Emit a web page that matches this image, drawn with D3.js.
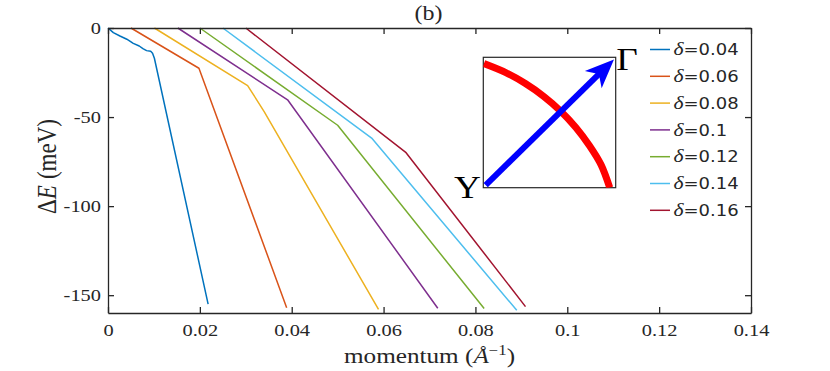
<!DOCTYPE html>
<html><head><meta charset="utf-8">
<script src="https://cdn.jsdelivr.net/npm/d3@7"></script>
<style>body{margin:0;background:#fff}</style>
</head><body>
<svg id="c" width="830" height="371"></svg>
<script>
// ---- data ----
const xTicks = [0, 0.02, 0.04, 0.06, 0.08, 0.1, 0.12, 0.14];
const yTicks = [-150, -100, -50, 0];
const deltas = ["0.04", "0.06", "0.08", "0.1", "0.12", "0.14", "0.16"];
const colors = ["#0072BD", "#D95319", "#EDB120", "#7E2F8E", "#77AC30", "#4DBEEE", "#A2142F"];

const k004 = [0, 0.00116, 0.0026, 0.0041, 0.0055, 0.0068, 0.0076, 0.0084, 0.0093, 0.0097, 0.0101, 0.0218];
const E004 = [0, -2.6, -4.5, -6.3, -8.6, -10.1, -11.6, -12.7, -13.1, -14.2, -17, -155];
const k006 = [0.0050, 0.0198, 0.0389];
const E006 = [0, -22.6, -157];
const k008 = [0.0101, 0.0304, 0.0340, 0.0589];
const E008 = [0, -32.3, -46.9, -158];
const k010 = [0.0152, 0.0391, 0.0718];
const E010 = [0, -40.3, -157.3];
const k012 = [0.0200, 0.0500, 0.0819];
const E012 = [0, -54.6, -157.5];
const k014 = [0.0250, 0.0574, 0.0890];
const E014 = [0, -61.8, -158.5];
const k016 = [0.0300, 0.0649, 0.0909];
const E016 = [0, -70, -156.4];

const seriesK = [k004, k006, k008, k010, k012, k014, k016];
const seriesE = [E004, E006, E008, E010, E012, E014, E016];

// inset (normalised 0..1 coordinates)
const arcU = [0.005, 0.170, 0.318, 0.457, 0.585, 0.699, 0.801, 0.889, 0.955];
const arcV = [0.952, 0.883, 0.799, 0.700, 0.587, 0.462, 0.324, 0.177, 0.0];
const arrowFrom = [0.018, 0.02];
const arrowTo = [0.987, 0.984];

// ---- drawing ----
const SX = 1.2;
const svg = d3.select("#c");
const L = 108, R = 751, T = 28, B = 313;
const x = d3.scaleLinear([0, 0.14], [L, R]);
const y = d3.scaleLinear([-160, 0], [B, T]);
const axisCol = "#262626";
const serif = "'Liberation Serif', 'Times New Roman', serif";

// lines
const line = d3.line().x(d => x(d[0])).y(d => y(d[1]));
seriesK.forEach((ks, i) => {
  const pts = ks.map((k, j) => [k, seriesE[i][j]]);
  svg.append("path").attr("d", line(pts)).attr("fill", "none")
    .attr("stroke", colors[i]).attr("stroke-width", 1.5).attr("stroke-linejoin", "round");
});

function styleAxis(g) {
  g.select(".domain").attr("stroke", axisCol).attr("stroke-width", 1.3);
  g.selectAll(".tick line").attr("stroke", axisCol).attr("stroke-width", 1.3);
  g.selectAll("text").attr("fill", axisCol).attr("font-family", serif).attr("font-size", 17);
}

const gB = svg.append("g").attr("transform", `translate(0,${B})`)
  .call(d3.axisBottom(x).tickValues(xTicks).tickSizeInner(-6).tickSizeOuter(0).tickFormat(d => String(d)));
styleAxis(gB);
gB.selectAll("text").attr("y", null).attr("dy", null)
  .attr("transform", `translate(0,23) scale(${SX},1)`);

const gL = svg.append("g").attr("transform", `translate(${L},0)`)
  .call(d3.axisLeft(y).tickValues(yTicks).tickSizeInner(-6).tickSizeOuter(0).tickFormat(d => String(d)));
styleAxis(gL);
gL.selectAll("text").attr("x", null).attr("dy", "0.33em")
  .attr("transform", `translate(-7,0) scale(${SX},1)`);

const gT = svg.append("g").attr("transform", `translate(0,${T})`)
  .call(d3.axisTop(x).tickValues(xTicks).tickSizeInner(-6).tickSizeOuter(0).tickFormat(""));
styleAxis(gT);
const gR = svg.append("g").attr("transform", `translate(${R},0)`)
  .call(d3.axisRight(y).tickValues(yTicks).tickSizeInner(-6).tickSizeOuter(0).tickFormat(""));
styleAxis(gR);

// title
svg.append("text").attr("transform", `translate(428.5,20) scale(${SX},1)`)
  .attr("text-anchor", "middle").attr("font-family", serif).attr("font-size", 20)
  .attr("fill", axisCol).text("(b)");

// x label
const xl = svg.append("text").attr("transform", `translate(429.5,363) scale(${SX},1)`)
  .attr("text-anchor", "middle").attr("font-family", serif).attr("font-size", 21).attr("fill", axisCol);
xl.append("tspan").text("momentum (");
xl.append("tspan").attr("font-style", "italic").text("Å");
xl.append("tspan").attr("font-size", 14).attr("dy", -8).text("−1");
xl.append("tspan").attr("dy", 8).text(")");

// y label
const yl = svg.append("text").attr("transform", `translate(55.5,166.5) rotate(-90) scale(1,${SX})`)
  .attr("text-anchor", "middle").attr("font-family", serif).attr("font-size", 23).attr("fill", axisCol);
yl.append("tspan").text("Δ");
yl.append("tspan").attr("font-style", "italic").text("E");
yl.append("tspan").attr("dx", 6).text("(meV)");

// legend
deltas.forEach((d, i) => {
  const ry = 49.5 + i * 26.8;
  svg.append("line").attr("x1", 650).attr("x2", 670).attr("y1", ry).attr("y2", ry)
    .attr("stroke", colors[i]).attr("stroke-width", 1.5);
  const t = svg.append("text").attr("transform", `translate(673.5,${ry}) scale(${SX},1)`)
    .attr("dy", "0.36em").attr("fill", axisCol);
  t.append("tspan").attr("font-family", serif).attr("font-style", "italic").attr("font-size", 18).text("δ");
  t.append("tspan").attr("font-family", "'DejaVu Sans', sans-serif").attr("font-size", 15).text("=" + d);
});

// inset
const ix = d3.scaleLinear([0, 1], [483.3, 615.7]);
const iy = d3.scaleLinear([0, 1], [187.7, 57.3]);
svg.append("rect").attr("x", ix(0)).attr("y", iy(1)).attr("width", ix(1) - ix(0)).attr("height", iy(0) - iy(1))
  .attr("fill", "#fff").attr("stroke", axisCol).attr("stroke-width", 1.2);
svg.append("defs").append("clipPath").attr("id", "inclip").append("rect")
  .attr("x", ix(0)).attr("y", iy(1)).attr("width", ix(1) - ix(0)).attr("height", iy(0) - iy(1));
const arcLine = d3.line().x(d => ix(d[0])).y(d => iy(d[1])).curve(d3.curveCatmullRom);
svg.append("path").attr("clip-path", "url(#inclip)")
  .attr("d", arcLine(arcU.map((u, i) => [u, arcV[i]])))
  .attr("fill", "none").attr("stroke", "#ff0000").attr("stroke-width", 7);

// arrow
const S = [ix(arrowFrom[0]), iy(arrowFrom[1])], Tp = [ix(arrowTo[0]), iy(arrowTo[1])];
const dx = Tp[0] - S[0], dy = Tp[1] - S[1], len = Math.hypot(dx, dy);
const u = [dx / len, dy / len], n = [-u[1], u[0]];
const hl = 29, hw = 12, notch = 21;
const P = (a, b) => [Tp[0] - a * u[0] + b * n[0], Tp[1] - a * u[1] + b * n[1]];
const b1 = P(hl, hw), b2 = P(hl, -hw), nt = P(notch, 0), c1 = P(notch + 3, hw * 0.35), c2 = P(notch + 3, -hw * 0.35);
svg.append("line").attr("x1", S[0]).attr("y1", S[1]).attr("x2", nt[0] + u[0] * 2).attr("y2", nt[1] + u[1] * 2)
  .attr("stroke", "#0000ff").attr("stroke-width", 6);
svg.append("path").attr("d",
  `M${Tp[0]},${Tp[1]}L${b1[0]},${b1[1]}Q${c1[0]},${c1[1]} ${nt[0]},${nt[1]}Q${c2[0]},${c2[1]} ${b2[0]},${b2[1]}Z`)
  .attr("fill", "#0000ff");

svg.append("text").attr("transform", `translate(467.5,198) scale(${SX},1)`).attr("text-anchor", "middle")
  .attr("font-family", serif).attr("font-size", 31).attr("fill", "#000").text("Y");
svg.append("text").attr("transform", `translate(627,70) scale(${SX},1)`).attr("text-anchor", "middle")
  .attr("font-family", serif).attr("font-size", 31).attr("fill", "#000").text("Γ");
</script>
</body></html>
